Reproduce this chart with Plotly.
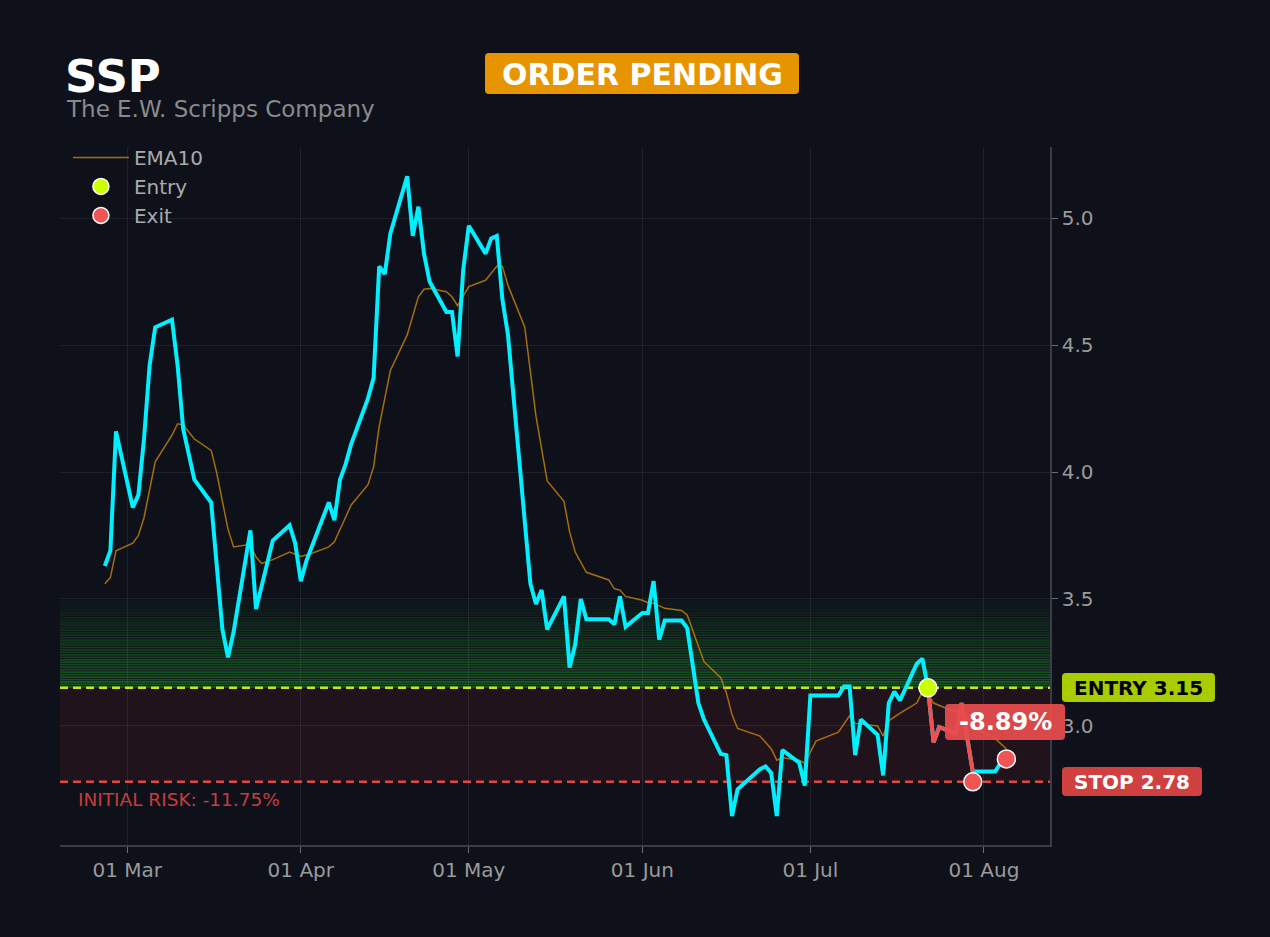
import plotly.graph_objects as go

# ---------------- data ----------------
price_dates = [
    "2024-02-26", "2024-02-27", "2024-02-28", "2024-03-02", "2024-03-03", "2024-03-04",
    "2024-03-05", "2024-03-06", "2024-03-09", "2024-03-10", "2024-03-11", "2024-03-13",
    "2024-03-16", "2024-03-18", "2024-03-19", "2024-03-20", "2024-03-23", "2024-03-24",
    "2024-03-27", "2024-03-30", "2024-03-31", "2024-04-01", "2024-04-02", "2024-04-06",
    "2024-04-07", "2024-04-08", "2024-04-09", "2024-04-10", "2024-04-13", "2024-04-14",
    "2024-04-15", "2024-04-16", "2024-04-17", "2024-04-20", "2024-04-21", "2024-04-22",
    "2024-04-23", "2024-04-24", "2024-04-27", "2024-04-28", "2024-04-29", "2024-04-30",
    "2024-05-01", "2024-05-04", "2024-05-05", "2024-05-06", "2024-05-07", "2024-05-08",
    "2024-05-12", "2024-05-13", "2024-05-14", "2024-05-15", "2024-05-18", "2024-05-19",
    "2024-05-20", "2024-05-21", "2024-05-22", "2024-05-26", "2024-05-27", "2024-05-28",
    "2024-05-29", "2024-06-01", "2024-06-02", "2024-06-03", "2024-06-04", "2024-06-05",
    "2024-06-08", "2024-06-09", "2024-06-11", "2024-06-12", "2024-06-15", "2024-06-16",
    "2024-06-17", "2024-06-18", "2024-06-22", "2024-06-23", "2024-06-24", "2024-06-25",
    "2024-06-26", "2024-06-29", "2024-06-30", "2024-07-01", "2024-07-06", "2024-07-07",
    "2024-07-08", "2024-07-09", "2024-07-10", "2024-07-13", "2024-07-14", "2024-07-15",
    "2024-07-16", "2024-07-17", "2024-07-20", "2024-07-21", "2024-07-22", "2024-07-23",
    "2024-07-24", "2024-07-27", "2024-07-28", "2024-07-30", "2024-08-03", "2024-08-04",
    "2024-08-05",
]
price_values = [
    3.63, 3.69, 4.16, 3.86, 3.91, 4.13,
    4.42, 4.57, 4.60, 4.42, 4.17, 3.97,
    3.88, 3.38, 3.27, 3.37, 3.77, 3.46,
    3.73, 3.79, 3.72, 3.57, 3.65, 3.88,
    3.81, 3.97, 4.03, 4.11, 4.29, 4.37,
    4.81, 4.78, 4.94, 5.165, 4.93, 5.045,
    4.86, 4.75, 4.63, 4.63, 4.455, 4.795,
    4.97, 4.86, 4.92, 4.93, 4.68, 4.54,
    3.56, 3.48, 3.535, 3.38, 3.51, 3.23,
    3.32, 3.50, 3.42, 3.42, 3.40, 3.51,
    3.39, 3.445, 3.445, 3.57, 3.34, 3.415,
    3.415, 3.385, 3.09, 3.025, 2.89, 2.885,
    2.645, 2.75, 2.83, 2.84, 2.815, 2.645,
    2.905, 2.855, 2.765, 3.12, 3.12, 3.155,
    3.155, 2.885, 3.025, 2.965, 2.805, 3.09,
    3.135, 3.10, 3.245, 3.265, 3.15, 2.935,
    2.995, 2.97, 3.09, 2.82, 2.82, 2.855,
    2.87,
]

ema_dates = [
    "2024-02-26", "2024-02-27", "2024-02-28", "2024-03-02", "2024-03-03", "2024-03-04",
    "2024-03-06", "2024-03-09", "2024-03-10", "2024-03-11", "2024-03-13", "2024-03-16",
    "2024-03-17", "2024-03-19", "2024-03-20", "2024-03-23", "2024-03-24", "2024-03-25",
    "2024-03-27", "2024-03-30", "2024-04-01", "2024-04-03", "2024-04-06", "2024-04-07",
    "2024-04-10", "2024-04-13", "2024-04-14", "2024-04-15", "2024-04-17", "2024-04-20",
    "2024-04-22", "2024-04-23", "2024-04-24", "2024-04-27", "2024-04-28", "2024-04-29",
    "2024-05-01", "2024-05-04", "2024-05-06", "2024-05-07", "2024-05-08", "2024-05-11",
    "2024-05-13", "2024-05-15", "2024-05-18", "2024-05-19", "2024-05-20", "2024-05-22",
    "2024-05-26", "2024-05-27", "2024-05-28", "2024-05-29", "2024-06-01", "2024-06-02",
    "2024-06-03", "2024-06-05", "2024-06-08", "2024-06-09", "2024-06-12", "2024-06-15",
    "2024-06-16", "2024-06-17", "2024-06-18", "2024-06-22", "2024-06-24", "2024-06-25",
    "2024-06-26", "2024-06-29", "2024-06-30", "2024-07-02", "2024-07-06", "2024-07-08",
    "2024-07-09", "2024-07-10", "2024-07-13", "2024-07-14", "2024-07-15", "2024-07-17",
    "2024-07-20", "2024-07-21", "2024-07-22", "2024-07-23", "2024-07-26", "2024-07-28",
    "2024-07-31", "2024-08-03", "2024-08-05",
]
ema_values = [
    3.56, 3.585, 3.69, 3.72, 3.75, 3.82,
    4.04, 4.145, 4.19, 4.185, 4.13, 4.085,
    3.995, 3.775, 3.705, 3.715, 3.665, 3.64,
    3.655, 3.685, 3.667, 3.68, 3.705, 3.725,
    3.87, 3.95, 4.02, 4.18, 4.40, 4.54,
    4.69, 4.72, 4.723, 4.71, 4.69, 4.655,
    4.73, 4.755, 4.81, 4.81, 4.735, 4.57,
    4.22, 3.965, 3.885, 3.765, 3.685, 3.605,
    3.575, 3.54, 3.535, 3.51, 3.495, 3.485,
    3.483, 3.463, 3.455, 3.437, 3.253, 3.19,
    3.13, 3.045, 2.99, 2.96, 2.91, 2.865,
    2.875, 2.865, 2.853, 2.94, 2.975, 3.04,
    3.01, 3.008, 3.0, 2.96, 3.02, 3.05,
    3.09, 3.135, 3.125, 3.09, 3.063, 3.055,
    2.985, 2.95, 2.91,
]

ticker = "SSP"
company = "The E.W. Scripps Company"
status = "ORDER PENDING"
entry_date = "2024-07-22"
entry_price = 3.15
stop_price = 2.78
exit_dates = ["2024-07-30", "2024-08-05"]
exit_prices = [2.78, 2.87]
trade_dates = ["2024-07-22", "2024-07-23", "2024-07-24", "2024-07-27", "2024-07-28", "2024-07-30"]
trade_values = [3.15, 2.935, 2.995, 2.97, 3.09, 2.82]
zone_top = 3.5
pnl_text = "-8.89%"
risk_text = "INITIAL RISK: -11.75%"

x_range = ["2024-02-18", "2024-08-12 19:00"]
y_range = [2.531, 5.28]

# ---------------- styling ----------------
BG = "#0e111a"
FONT = "DejaVu Sans"
GRID = "rgba(255,255,255,0.07)"
TICK = "#9a9a9a"
W, H = 1270, 937
ML, MR, MT, MB = 60, 220, 147, 92
PW, PH = W - ML - MR, H - MT - MB


def px_to_paper(px, py):
    return (px - ML) / PW, (H - MB - py) / PH


def rounded_box(x0, y0, x1, y1, r, color):
    """Rounded rectangle given in page pixels, returned as a paper-referenced path."""
    def P(x, y):
        u, v = px_to_paper(x, y)
        return f"{u:.5f},{v:.5f}"
    path = (
        f"M {P(x0 + r, y0)} L {P(x1 - r, y0)} Q {P(x1, y0)} {P(x1, y0 + r)} "
        f"L {P(x1, y1 - r)} Q {P(x1, y1)} {P(x1 - r, y1)} "
        f"L {P(x0 + r, y1)} Q {P(x0, y1)} {P(x0, y1 - r)} "
        f"L {P(x0, y0 + r)} Q {P(x0, y0)} {P(x0 + r, y0)} Z"
    )
    return dict(type="path", xref="paper", yref="paper", path=path,
                fillcolor=color, line=dict(width=0), layer="above")


fig = go.Figure()

fig.add_trace(go.Scatter(
    x=ema_dates, y=ema_values, mode="lines", name="EMA10",
    line=dict(color="rgba(215,140,10,0.75)", width=1.5),
))
fig.add_trace(go.Scatter(
    x=price_dates, y=price_values, mode="lines", name="Price", showlegend=False,
    line=dict(color="#00f0ff", width=4),
))
fig.add_trace(go.Scatter(
    x=trade_dates, y=trade_values, mode="lines", showlegend=False,
    line=dict(color="#f05050", width=4),
))
fig.add_trace(go.Scatter(
    x=[entry_date], y=[entry_price], mode="markers", name="Entry",
    marker=dict(color="#ccff00", size=18, line=dict(color="white", width=1.5)),
))
fig.add_trace(go.Scatter(
    x=exit_dates, y=exit_prices, mode="markers", name="Exit",
    marker=dict(color="#f05555", size=18, line=dict(color="white", width=1.5)),
))

shapes = []
# green gradient zone between entry and zone_top
n = 36
step = (zone_top - entry_price) / n
for i in range(n):
    y0 = entry_price + i * step
    alpha = 0.42 * (1 - i / n) + 0.03
    shapes.append(dict(
        type="rect", xref="paper", yref="y", x0=0, x1=1,
        y0=y0, y1=y0 + step * 0.72,
        fillcolor=f"rgba(40,170,50,{alpha:.3f})", line=dict(width=0), layer="below",
    ))
# risk zone
shapes.append(dict(
    type="rect", xref="paper", yref="y", x0=0, x1=1, y0=stop_price, y1=entry_price,
    fillcolor="rgba(220,40,55,0.09)", line=dict(width=0), layer="below",
))
shapes.append(dict(
    type="line", xref="paper", yref="y", x0=0, x1=1, y0=entry_price, y1=entry_price,
    line=dict(color="#c8e614", width=2.5, dash="8px,5px"), layer="below",
))
shapes.append(dict(
    type="line", xref="paper", yref="y", x0=0, x1=1, y0=stop_price, y1=stop_price,
    line=dict(color="#e04848", width=2.5, dash="8px,5px"), layer="below",
))
# label boxes
shapes.append(rounded_box(485, 53, 799, 94, 4, "#e69500"))
shapes.append(rounded_box(1062, 673, 1215, 702, 4, "#a8cc00"))
shapes.append(rounded_box(1062, 767, 1202, 796, 4, "#d04040"))
shapes.append(rounded_box(945, 704, 1065, 740, 4, "rgba(232,76,76,0.93)"))


def ann(text, px, py, size, color, anchor="center", bold=False):
    u, v = px_to_paper(px, py)
    return dict(text=f"<b>{text}</b>" if bold else text, xref="paper", yref="paper",
                x=u, y=v, xanchor=anchor, yanchor="middle", showarrow=False,
                font=dict(family=FONT, size=size, color=color))


annotations = [
    ann(ticker, 63, 77, 45, "white", "left", True),
    ann(company, 64, 109.5, 23, "#8a8a8a", "left"),
    ann(status, 642, 74, 30, "white", "center", True),
    ann(f"ENTRY {entry_price:.2f}", 1138.5, 688, 20, "black", "center", True),
    ann(f"STOP {stop_price:.2f}", 1132, 782, 20, "white", "center", True),
    ann(pnl_text, 1005, 722, 24, "white", "center", True),
    ann(risk_text, 76, 799, 18.5, "#c83c3c", "left"),
]

fig.update_layout(
    width=W, height=H,
    paper_bgcolor=BG, plot_bgcolor=BG,
    margin=dict(l=ML, r=MR, t=MT, b=MB),
    font=dict(family=FONT, size=20, color=TICK),
    shapes=shapes, annotations=annotations,
    legend=dict(x=0.008, y=1.013, xanchor="left", yanchor="top", itemwidth=56,
                bgcolor="rgba(0,0,0,0)", font=dict(family=FONT, size=20, color="#aaaaaa"),
                tracegroupgap=0),
    showlegend=True,
)
fig.update_xaxes(
    range=x_range, type="date", tickformat="%d %b", dtick="M1", tick0="2024-03-01",
    showgrid=True, gridcolor=GRID, gridwidth=1,
    showline=True, linecolor="#3a3d45", linewidth=1.5,
    ticks="outside", ticklen=6, tickcolor="#6a6d75",
    tickfont=dict(family=FONT, size=20, color=TICK), zeroline=False,
)
fig.update_yaxes(
    range=y_range, side="right", dtick=0.5, tick0=3.0, tickformat=".1f",
    showgrid=True, gridcolor=GRID, gridwidth=1,
    showline=True, linecolor="#3a3d45", linewidth=1.5,
    ticks="outside", ticklen=6, tickcolor="#6a6d75",
    tickfont=dict(family=FONT, size=20, color=TICK), zeroline=False,
)

fig.write_html("out.html", config={"displayModeBar": False},
               post_script="document.body.style.margin='0';")
